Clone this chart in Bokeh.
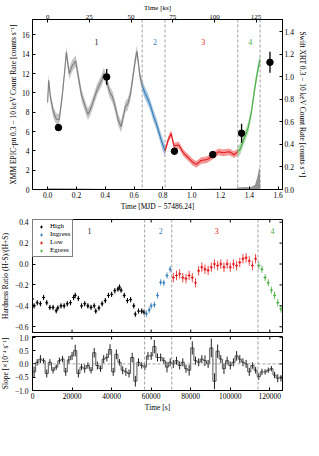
from math import pi
from bokeh.plotting import figure
from bokeh.models import (Range1d, LinearAxis, Span, Label, Legend, LegendItem,
                          FixedTicker, CustomJSTickFormatter)
from bokeh.layouts import column
from bokeh.embed import file_html
from bokeh.resources import INLINE

FONT = "Liberation Serif"
GRAY, BLUE, RED, GREEN = "#7f7f7f", "#377eb8", "#e41a1c", "#4daf4a"

# ---------------- data ----------------
KS_PER_DAY = 86.4
phase_ks = [56.7, 70.4, 114.0, 127.4]          # phase boundaries [ks]

# XMM EPIC-pn light curve [counts/s] vs MJD-57486.24
lc1_t = [0.00, 0.007, 0.02, 0.04, 0.06, 0.08, 0.10, 0.12, 0.13, 0.15, 0.17, 0.195, 0.215, 0.235,
         0.26, 0.28, 0.30, 0.32, 0.345, 0.375, 0.39, 0.41, 0.43, 0.45, 0.47, 0.49, 0.51, 0.54,
         0.555, 0.574, 0.596, 0.61, 0.62, 0.64, 0.656]
lc1_r = [9.0, 11.3, 9.5, 8.0, 7.3, 7.2, 9.5, 12.5, 14.2, 12.0, 12.8, 13.3, 11.5, 9.8,
         8.6, 7.8, 8.4, 9.3, 10.4, 11.3, 12.0, 11.2, 10.1, 9.6, 8.5, 7.2, 6.5, 8.6,
         8.8, 9.8, 12.1, 13.6, 14.3, 11.8, 10.8]
lc2_t = [0.656, 0.675, 0.695, 0.715, 0.735, 0.755, 0.775, 0.795, 0.815]
lc2_r = [10.8, 10.0, 9.4, 8.6, 7.6, 6.8, 5.8, 4.8, 4.0]
lc3_t = [0.815, 0.836, 0.857, 0.877, 0.91, 0.942, 0.975, 1.008, 1.032, 1.065, 1.106, 1.139,
         1.185, 1.217, 1.261, 1.294, 1.32]
lc3_r = [4.0, 5.1, 5.8, 4.5, 4.6, 3.8, 3.3, 2.8, 2.6, 3.0, 3.1, 3.4, 3.9, 3.8, 3.9, 3.6, 3.9]
lc4_t = [1.32, 1.337, 1.359, 1.392, 1.414, 1.433, 1.446, 1.468, 1.476]
lc4_r = [3.9, 4.2, 5.1, 6.4, 8.0, 10.0, 11.3, 13.1, 13.4]
lc_err = [0.6, 0.6, 0.35, 0.55]

bkg_t = [0.0, 0.2, 0.4, 0.6, 0.8, 1.0, 1.2, 1.31, 1.32, 1.38, 1.40, 1.42, 1.44, 1.45, 1.46,
         1.468, 1.473, 1.476]
bkg_r = [0.12, 0.1, 0.05, 0.05, 0.05, 0.05, 0.1, 0.1, 0.2, 0.25, 0.2, 0.3, 0.5, 1.0, 1.6,
         2.3, 2.0, 0.0]

# Swift XRT [counts/s]
swift_t = [0.075, 0.41, 0.88, 1.146, 1.346, 1.543]
swift_r = [0.55, 1.00, 0.34, 0.31, 0.50, 1.13]
swift_e = [0.03, 0.07, 0.03, 0.015, 0.085, 0.093]

# Hardness ratio, time [ks]
hr_high_t = [0.0, 0.8, 2.4, 4.0, 5.6, 7.2, 8.8, 10.4, 12.0, 12.8, 14.4, 16.0, 17.6, 19.2, 20.8,
             21.6, 23.2, 24.8, 26.4, 28.0, 29.6, 31.2, 32.0, 33.6, 35.2, 36.8, 38.4, 40.0,
             41.6, 43.2, 44.0, 44.8, 46.4, 48.0, 49.6, 51.2, 52.0, 53.6, 55.2, 56.4]
hr_high = [-0.335, -0.40, -0.37, -0.38, -0.32, -0.37, -0.415, -0.415, -0.447, -0.42, -0.40,
           -0.40, -0.38, -0.37, -0.32, -0.30, -0.33, -0.40, -0.38, -0.40, -0.415, -0.40, -0.45,
           -0.42, -0.38, -0.35, -0.30, -0.29, -0.255, -0.24, -0.22, -0.25, -0.30, -0.35, -0.34,
           -0.40, -0.48, -0.45, -0.45, -0.46]
hr_ing_t = [57.6, 59.0, 60.0, 61.6, 63.2, 64.8, 66.4, 68.0, 69.6]
hr_ing = [-0.475, -0.44, -0.40, -0.39, -0.30, -0.175, -0.18, -0.11, -0.05]
hr_low_t = [71.2, 72.8, 74.4, 76.0, 77.6, 79.2, 80.8, 82.4, 84.0, 85.6, 87.2, 88.8, 90.4, 92.0,
            93.6, 95.2, 96.8, 98.4, 100.0, 101.6, 103.2, 104.8, 106.4, 108.0, 109.6, 111.2, 112.8]
hr_low = [-0.13, -0.11, -0.095, -0.13, -0.14, -0.11, -0.13, -0.18, -0.065, -0.03, -0.05, -0.06,
          -0.03, 0.0, -0.015, 0.0, -0.03, 0.0, -0.03, 0.0, -0.015, 0.015, 0.05, 0.06, 0.03,
          -0.015, 0.05]
hr_egr_t = [114.4, 116.0, 117.6, 119.2, 120.8, 122.4, 124.0, 125.6]
hr_egr = [-0.015, -0.05, -0.13, -0.18, -0.25, -0.30, -0.37, -0.43]
hr_err = {"High": 0.025, "Ingress": 0.03, "Low": 0.045, "Egress": 0.035}

# Slope [1e-4 / s], bins of 1.6 ks starting at 0
slope_bin_ks = 1.6
slope = [-0.30, 0.06, 0.18, 0.12, -0.36, 0.06, -0.24, -0.12, 0.12, 0.18, -0.30, 0.15, 0.30,
         0.50, -0.36, -0.12, -0.18, -0.06, -0.24, 0.42, -0.06, -0.18, 0.18, 0.24, 0.54, -0.30,
         0.36, 0.06, -0.24, -0.30, -0.36, 0.24, -0.65, 0.06, -0.06, -0.12,
         0.30, 0.30, 0.65, 0.24, 0.24, 0.12, -0.12, 0.06, 0.00, 0.12, -0.06, 0.06, -0.18, -0.24,
         0.60, 0.12, 0.06, 0.18, 0.12, 0.00, 0.60, -0.65, 0.48, 0.18, -0.18, 0.12, -0.06, 0.06,
         0.30, 0.18, 0.06, 0.00, -0.30, -0.06, -0.24, -0.48, -0.30, -0.30, -0.24, -0.18, -0.42,
         -0.54, -0.54]
slope_err = [0.20, 0.12, 0.15, 0.10, 0.15, 0.12, 0.12, 0.10, 0.12, 0.12, 0.15, 0.15, 0.15, 0.22,
             0.15, 0.12, 0.15, 0.12, 0.12, 0.18, 0.15, 0.12, 0.15, 0.15, 0.20, 0.15, 0.18, 0.12,
             0.15, 0.15, 0.15, 0.18, 0.20, 0.15, 0.12, 0.12,
             0.15, 0.15, 0.25, 0.15, 0.15, 0.12, 0.20, 0.15, 0.15, 0.15, 0.15, 0.15, 0.15, 0.20,
             0.25, 0.15, 0.15, 0.15, 0.20, 0.15, 0.35, 0.30, 0.25, 0.15, 0.20, 0.15, 0.15, 0.15,
             0.18, 0.15, 0.15, 0.15, 0.15, 0.12, 0.12, 0.12, 0.12, 0.10, 0.10, 0.10, 0.12, 0.15,
             0.12]

# tick labels
mjd_ticks = [0.0, 0.2, 0.4, 0.6, 0.8, 1.0, 1.2, 1.4, 1.6]
ks_ticks = [0, 25, 50, 75, 100, 125]
xmm_ticks = [0, 2, 4, 6, 8, 10, 12, 14, 16]
swift_ticks = [0.0, 0.2, 0.4, 0.6, 0.8, 1.0, 1.2, 1.4]
sec_ticks = [0, 20000, 40000, 60000, 80000, 100000, 120000]
hr_ticks = [-0.6, -0.4, -0.2, 0.0, 0.2, 0.4]
slope_ticks = [-1.0, -0.5, 0.0, 0.5, 1.0]

fmt1 = CustomJSTickFormatter(code="return tick.toFixed(1).replace('-', '\u2212');")
fmt0 = CustomJSTickFormatter(code="return tick.toFixed(0).replace('-', '\u2212');")
TS = "7.5px"


def style_axis(ax, std=2, lstd=1, size=TS):
    ax.major_tick_in = 3
    ax.major_tick_out = 0
    ax.minor_tick_in = 0
    ax.minor_tick_out = 0
    ax.axis_line_color = "black"
    ax.major_tick_line_color = "black"
    ax.major_label_text_font = FONT
    ax.major_label_text_font_size = size
    ax.major_label_text_color = "black"
    ax.major_label_standoff = std
    ax.axis_label_text_font = FONT
    ax.axis_label_text_font_size = size
    ax.axis_label_text_color = "black"
    ax.axis_label_text_font_style = "normal"
    ax.axis_label_standoff = lstd


def base_fig(w, h, xr, yr, l, r, t, b, **kw):
    p = figure(width=w, height=h, x_range=xr, y_range=yr, output_backend="svg",
               toolbar_location=None, min_border_left=l, min_border_right=r,
               min_border_top=t, min_border_bottom=b, **kw)
    p.grid.visible = False
    p.outline_line_color = "black"
    p.background_fill_color = "white"
    p.border_fill_color = "white"
    return p


def inner_ticks(p, xticks, yticks, xr, yr, top=True, bottom=True, right=True):
    if bottom:
        p.ray(x=xticks, y=[yr.start] * len(xticks), length=3, length_units="screen",
              angle=pi / 2, line_color="black", line_width=1)
    if top:
        p.ray(x=xticks, y=[yr.end] * len(xticks), length=3, length_units="screen",
              angle=-pi / 2, line_color="black", line_width=1)
    if right:
        p.ray(x=[xr.end] * len(yticks), y=yticks, length=3, length_units="screen",
              angle=pi, line_color="black", line_width=1)


# ---------------- top panel ----------------
x0, x1 = -0.105, 1.63
y1max = 17.6
p1 = base_fig(317, 213, Range1d(x0, x1), Range1d(0, y1max), 28, 24, 15, 21)
p1.extra_x_ranges = {"ks": Range1d(x0 * KS_PER_DAY, x1 * KS_PER_DAY)}
p1.extra_y_ranges = {"swift": Range1d(0, 1.51)}

for ph in phase_ks:
    p1.add_layout(Span(location=ph / KS_PER_DAY, dimension="height", line_color="#888888",
                       line_dash="3 2", line_width=0.8))

p1.varea(x=bkg_t, y1=[0] * len(bkg_t), y2=bkg_r, fill_color="#777777", fill_alpha=0.8)

for (tt, rr), col, e in zip([(lc1_t, lc1_r), (lc2_t, lc2_r), (lc3_t, lc3_r), (lc4_t, lc4_r)],
                            [GRAY, BLUE, RED, GREEN], lc_err):
    p1.varea(x=tt, y1=[v - e for v in rr], y2=[v + e for v in rr], fill_color=col,
             fill_alpha=0.45)
    p1.line(tt, rr, line_color=col, line_width=1.1)

p1.segment(x0=swift_t, y0=[r - e for r, e in zip(swift_r, swift_e)], x1=swift_t,
           y1=[r + e for r, e in zip(swift_r, swift_e)], y_range_name="swift",
           line_color="black", line_width=1.3)
p1.scatter(swift_t, swift_r, y_range_name="swift", size=6.5, color="black")

for txt, xx, col in [("1", 0.34, "#222222"), ("2", 0.746, BLUE), ("3", 1.08, RED),
                     ("4", 1.407, GREEN)]:
    p1.add_layout(Label(x=xx, y=15.3, text=txt, text_color=col, text_font=FONT,
                        text_font_size="8px", text_align="center", text_baseline="middle"))

ax = p1.xaxis[0]
style_axis(ax)
ax.ticker = FixedTicker(ticks=mjd_ticks)
ax.formatter = fmt1
ax.axis_label = "Time [MJD \u2212 57486.24]"
ax = p1.yaxis[0]
style_axis(ax, std=3)
ax.ticker = FixedTicker(ticks=xmm_ticks)
ax.formatter = fmt0
ax.axis_label = "XMM EPIC-pn 0.3 \u2212 10 keV Count Rate [counts s\u207b\u00b9]"
top = LinearAxis(x_range_name="ks", ticker=FixedTicker(ticks=ks_ticks), formatter=fmt0,
                 axis_label="Time [ks]")
style_axis(top, std=1, lstd=0, size="7px")
p1.add_layout(top, "above")
right = LinearAxis(y_range_name="swift", ticker=FixedTicker(ticks=swift_ticks), formatter=fmt1,
                   axis_label="Swift XRT 0.3 \u2212 10 keV Count Rate [counts s\u207b\u00b9]")
style_axis(right)
p1.add_layout(right, "right")

# ---------------- middle panel ----------------
xs0, xs1 = 0, 126400
xr2, yr2 = Range1d(xs0, xs1), Range1d(-0.655, 0.426)
p2 = base_fig(317, 121, xr2, yr2, 40, 13, 6, 2, x_axis_location=None)
for ph in phase_ks:
    p2.add_layout(Span(location=ph * 1000, dimension="height", line_color="#888888",
                       line_dash="3 2", line_width=0.8))

legend_items = []
for name, tt, hh, col in [("High", hr_high_t, hr_high, "black"), ("Ingress", hr_ing_t, hr_ing, BLUE),
                          ("Low", hr_low_t, hr_low, RED), ("Egress", hr_egr_t, hr_egr, GREEN)]:
    e = hr_err[name]
    xs = [t * 1000 for t in tt]
    alpha = 0.8 if name != "High" else 1.0
    p2.segment(x0=xs, y0=[h - e for h in hh], x1=xs, y1=[h + e for h in hh],
               line_color=col, line_width=1, line_alpha=alpha)
    p2.segment(x0=[x - 350 for x in xs], y0=hh, x1=[x + 350 for x in xs], y1=hh,
               line_color=col, line_width=1, line_alpha=alpha)
    r = p2.scatter(xs, hh, marker="cross", size=3, line_color=col, line_width=1)
    legend_items.append(LegendItem(label=name, renderers=[r]))

inner_ticks(p2, sec_ticks, hr_ticks, xr2, yr2)

leg = Legend(items=legend_items, location="top_left", border_line_color="black",
             border_line_width=1, label_text_font=FONT, label_text_font_size="7px",
             label_text_color="black",
             glyph_height=7, glyph_width=12, label_height=7, spacing=0, padding=2, margin=0,
             label_standoff=3, background_fill_alpha=1.0)
p2.add_layout(leg)

for txt, xx, col in [("1", 28800, "#222222"), ("2", 64800, BLUE), ("3", 93100, RED),
                     ("4", 121400, GREEN)]:
    p2.add_layout(Label(x=xx, y=0.32, text=txt, text_color=col, text_font=FONT,
                        text_font_size="8px", text_align="center", text_baseline="middle"))

ax = p2.yaxis[0]
style_axis(ax, std=4, lstd=2)
ax.ticker = FixedTicker(ticks=hr_ticks)
ax.formatter = fmt1
ax.axis_label = "Hardness Ratio (H-S)/(H+S)"

# ---------------- bottom panel ----------------
xr3, yr3 = Range1d(xs0, xs1), Range1d(-1.0, 1.03)
p3 = base_fig(317, 80, xr3, yr3, 40, 13, 2, 21)
for ph in phase_ks:
    p3.add_layout(Span(location=ph * 1000, dimension="height", line_color="#888888",
                       line_dash="3 2", line_width=0.8))
p3.add_layout(Span(location=0, dimension="width", line_color="#888888", line_dash="3 2",
                   line_width=0.8))

n = min(len(slope), len(slope_err))
w = slope_bin_ks * 1000
edges = [i * w for i in range(n + 1)]
p3.step(x=edges, y=slope[:n] + [slope[n - 1]], mode="after", line_color="#555555",
        line_width=1)
centers = [(i + 0.5) * w for i in range(n)]
p3.segment(x0=centers, y0=[s - e for s, e in zip(slope, slope_err)], x1=centers,
           y1=[s + e for s, e in zip(slope, slope_err)], line_color="#222222", line_width=1)
inner_ticks(p3, sec_ticks, slope_ticks, xr3, yr3, bottom=False)

ax = p3.xaxis[0]
style_axis(ax)
ax.ticker = FixedTicker(ticks=sec_ticks)
ax.formatter = fmt0
ax.axis_label = "Time [s]"
ax = p3.yaxis[0]
style_axis(ax, std=4, lstd=2)
ax.ticker = FixedTicker(ticks=slope_ticks)
ax.formatter = fmt1
ax.axis_label = "Slope [\u00d710\u207b\u2074 s\u207b\u00b9]"

layout = column(p1, p2, p3, margin=(0, 0, 0, -8))
open("out.html", "w").write(file_html(layout, INLINE))
